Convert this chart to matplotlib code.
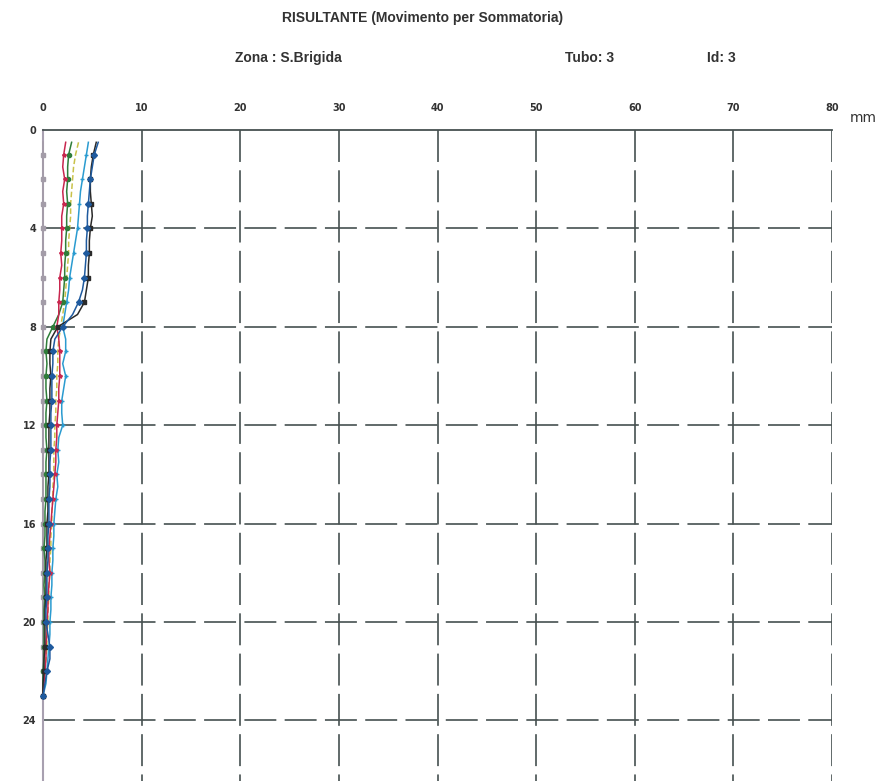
import matplotlib
matplotlib.use("Agg")
import matplotlib.pyplot as plt
import numpy as np

plt.rcParams["lines.scale_dashes"] = False

# depth (m) of each reading
DEPTH = np.arange(0.5, 23.01, 0.5)

BASE = [0.0] * 46
RED = [2.3, 2.1, 2.0, 2.2, 2.0, 2.1, 1.9, 1.9, 1.9, 1.8, 1.9, 1.7, 1.7, 1.6, 1.6, 1.4,
       1.6, 1.7, 1.7, 1.7, 1.6, 1.6, 1.5, 1.4, 1.4, 1.3, 1.3, 1.2, 1.1, 1.0, 0.9, 0.8,
       0.7, 0.6, 0.6, 0.7, 0.6, 0.5, 0.5, 0.4, 0.4, 0.3, 0.3, 0.2, 0.1, 0.0]
GREEN = [2.9, 2.6, 2.5, 2.5, 2.4, 2.5, 2.4, 2.4, 2.3, 2.3, 2.2, 2.2, 2.1, 2.0, 1.6, 1.0,
         0.4, 0.3, 0.4, 0.3, 0.3, 0.4, 0.3, 0.3, 0.3, 0.4, 0.3, 0.3, 0.3, 0.3, 0.2, 0.2,
         0.2, 0.1, 0.2, 0.2, 0.1, 0.2, 0.1, 0.1, 0.1, 0.1, 0.1, 0.0, 0.0, 0.0]
YELLOW = [3.6, 3.3, 3.1, 3.0, 2.9, 2.8, 2.8, 2.7, 2.6, 2.6, 2.5, 2.4, 2.3, 2.2, 2.0, 1.8,
          1.6, 1.5, 1.5, 1.4, 1.4, 1.3, 1.3, 1.2, 1.2, 1.1, 1.1, 1.1, 1.0, 1.0, 0.9, 0.9,
          0.8, 0.8, 0.7, 0.7, 0.6, 0.6, 0.5, 0.5, 0.4, 0.4, 0.3, 0.2, 0.1, 0.0]
LIGHTBLUE = [4.6, 4.4, 4.2, 4.0, 3.8, 3.7, 3.6, 3.5, 3.3, 3.1, 2.9, 2.7, 2.6, 2.4, 2.2, 2.0,
             2.3, 2.3, 2.0, 2.3, 2.1, 1.9, 1.9, 2.0, 1.6, 1.5, 1.6, 1.4, 1.5, 1.3, 1.2, 1.1,
             1.1, 1.0, 1.0, 0.9, 0.9, 0.8, 0.8, 0.7, 0.7, 0.6, 0.5, 0.4, 0.3, 0.0]
DARKBLUE = [5.6, 5.2, 5.0, 4.8, 4.7, 4.6, 4.5, 4.5, 4.4, 4.4, 4.3, 4.2, 4.0, 3.6, 3.0, 2.0,
            1.2, 1.0, 1.0, 0.9, 0.9, 0.9, 0.8, 0.8, 0.8, 0.8, 0.7, 0.7, 0.7, 0.6, 0.6, 0.6,
            0.5, 0.5, 0.5, 0.4, 0.4, 0.4, 0.3, 0.3, 0.5, 0.7, 0.7, 0.4, 0.2, 0.0]
BLACK = [5.4, 5.1, 4.9, 4.8, 4.8, 4.9, 5.0, 4.8, 4.7, 4.7, 4.6, 4.6, 4.4, 4.2, 3.5, 1.5,
         0.8, 0.7, 0.7, 0.8, 0.7, 0.7, 0.7, 0.6, 0.6, 0.6, 0.6, 0.6, 0.5, 0.5, 0.5, 0.4,
         0.4, 0.4, 0.3, 0.3, 0.3, 0.3, 0.2, 0.2, 0.2, 0.2, 0.1, 0.1, 0.0, 0.0]

X_TICKS = [0, 10, 20, 30, 40, 50, 60, 70, 80]
Y_TICKS = [0, 4, 8, 12, 16, 20, 24]

W, H = 884, 781
fig = plt.figure(figsize=(W / 100, H / 100), dpi=100)
ax = fig.add_axes([43 / W, 0, 789 / W, 1 - 130 / H])
Y_BOTTOM = 651 / 24.6
ax.set_xlim(0, 80)
ax.set_ylim(Y_BOTTOM, 0)

grid_kw = dict(color="#465050", lw=1.2, linestyle=(0, (23, 6)), zorder=1)
for x in X_TICKS[1:]:
    ax.plot([x, x], [0, Y_BOTTOM], **grid_kw)
for y in Y_TICKS[1:]:
    ax.plot([0, 80], [y, y], **grid_kw)

series = [
    (BASE, "#a39ca8", "s", "-"),
    (YELLOW, "#c9c24a", None, (0, (4, 2))),
    (LIGHTBLUE, "#2a9bd0", "+", "-"),
    (GREEN, "#2f7d3a", "o", "-"),
    (RED, "#c8264e", "*", "-"),
    (BLACK, "#2a2a2a", "s", "-"),
    (DARKBLUE, "#1f5a9e", "D", "-"),
]
for vals, color, marker, ls in series:
    ax.plot(vals, DEPTH, color=color, lw=1.1, linestyle=ls, marker=marker,
            markevery=(1, 2), ms=3, mfc=color, mec=color, zorder=3, clip_on=False)

for side in ["bottom", "right"]:
    ax.spines[side].set_visible(False)
ax.spines["top"].set_color("#465050")
ax.spines["top"].set_linewidth(1.3)
ax.spines["left"].set_color("#a8a0b0")
ax.spines["left"].set_linewidth(1.5)

ax.xaxis.tick_top()
ax.set_xticks(X_TICKS)
ax.set_yticks(Y_TICKS)
ax.tick_params(axis="both", length=0, labelsize=7, pad=12)
ax.tick_params(axis="y", pad=5)
for lab in ax.get_xticklabels() + ax.get_yticklabels():
    lab.set_fontweight("bold")
    lab.set_color("#333")

fig.text(850 / W, 1 - 118 / H, "mm", fontsize=10, va="center", ha="left", color="#333")

font = ["Liberation Sans Narrow", "Liberation Sans", "DejaVu Sans"]
fig.text(423 / W, 1 - 18 / H, "RISULTANTE (Movimento per Sommatoria)", ha="center", va="center",
         fontsize=10, fontweight="bold", family=font, color="#333")
fig.text(235 / W, 1 - 58 / H, "Zona : S.Brigida", ha="left", va="center",
         fontsize=10, fontweight="bold", family=font, color="#333")
fig.text(565 / W, 1 - 58 / H, "Tubo: 3", ha="left", va="center",
         fontsize=10, fontweight="bold", family=font, color="#333")
fig.text(707 / W, 1 - 58 / H, "Id: 3", ha="left", va="center",
         fontsize=10, fontweight="bold", family=font, color="#333")

fig.savefig("out.png", dpi=100)
